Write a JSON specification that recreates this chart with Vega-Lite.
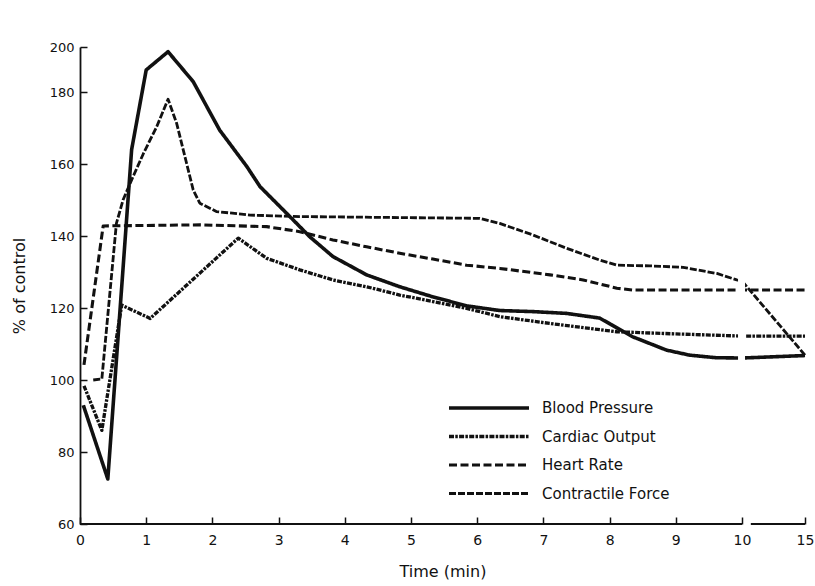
{
  "$schema": "https://vega.github.io/schema/vega-lite/v6.json",
  "width": 725,
  "height": 477,
  "autosize": {"type": "none"},
  "padding": {"left": 80, "top": 47, "right": 10, "bottom": 62},
  "config": {
    "view": {"stroke": null},
    "font": "DejaVu Sans",
    "axis": {"domainColor": "#111", "domainWidth": 1.8, "tickColor": "#111", "tickWidth": 1.5, "labelColor": "#111", "titleColor": "#111", "grid": false, "titleFontWeight": "normal", "labelFont": "DejaVu Sans", "titleFont": "DejaVu Sans"}
  },
  "datasets": {
    "series": [
      {"series": "Blood Pressure", "t": 0.05, "v": 93},
      {"series": "Blood Pressure", "t": 0.42, "v": 72.5},
      {"series": "Blood Pressure", "t": 0.78, "v": 164},
      {"series": "Blood Pressure", "t": 1.0, "v": 189.8},
      {"series": "Blood Pressure", "t": 1.33, "v": 197.9},
      {"series": "Blood Pressure", "t": 1.71, "v": 184.6},
      {"series": "Blood Pressure", "t": 2.11, "v": 169.4},
      {"series": "Blood Pressure", "t": 2.52, "v": 159.3},
      {"series": "Blood Pressure", "t": 2.72, "v": 153.7},
      {"series": "Blood Pressure", "t": 3.17, "v": 145.4},
      {"series": "Blood Pressure", "t": 3.47, "v": 139.8},
      {"series": "Blood Pressure", "t": 3.82, "v": 134.3},
      {"series": "Blood Pressure", "t": 4.33, "v": 129.2},
      {"series": "Blood Pressure", "t": 4.83, "v": 125.9},
      {"series": "Blood Pressure", "t": 5.33, "v": 123.1},
      {"series": "Blood Pressure", "t": 5.84, "v": 120.6},
      {"series": "Blood Pressure", "t": 6.34, "v": 119.3},
      {"series": "Blood Pressure", "t": 6.84, "v": 119.0},
      {"series": "Blood Pressure", "t": 7.35, "v": 118.5},
      {"series": "Blood Pressure", "t": 7.85, "v": 117.2},
      {"series": "Blood Pressure", "t": 8.35, "v": 112.0},
      {"series": "Blood Pressure", "t": 8.86, "v": 108.3},
      {"series": "Blood Pressure", "t": 9.21, "v": 106.9},
      {"series": "Blood Pressure", "t": 9.6, "v": 106.2},
      {"series": "Blood Pressure", "t": 10, "v": 106.1},
      {"series": "Blood Pressure", "t": 15, "v": 106.8},
      {"series": "Cardiac Output", "t": 0.06, "v": 98.4},
      {"series": "Cardiac Output", "t": 0.33, "v": 86},
      {"series": "Cardiac Output", "t": 0.63, "v": 120.8},
      {"series": "Cardiac Output", "t": 1.06, "v": 117.1},
      {"series": "Cardiac Output", "t": 2.39, "v": 139.4},
      {"series": "Cardiac Output", "t": 2.82, "v": 133.8},
      {"series": "Cardiac Output", "t": 3.32, "v": 130.6},
      {"series": "Cardiac Output", "t": 3.82, "v": 127.8},
      {"series": "Cardiac Output", "t": 4.33, "v": 125.9},
      {"series": "Cardiac Output", "t": 4.83, "v": 123.6},
      {"series": "Cardiac Output", "t": 5.33, "v": 121.8},
      {"series": "Cardiac Output", "t": 5.84, "v": 119.9},
      {"series": "Cardiac Output", "t": 6.34, "v": 117.6},
      {"series": "Cardiac Output", "t": 7.1, "v": 115.7},
      {"series": "Cardiac Output", "t": 8.11, "v": 113.4},
      {"series": "Cardiac Output", "t": 9.0, "v": 112.8},
      {"series": "Cardiac Output", "t": 10, "v": 112.2},
      {"series": "Cardiac Output", "t": 15, "v": 112.2},
      {"series": "Heart Rate", "t": 0.06, "v": 104.2},
      {"series": "Heart Rate", "t": 0.35, "v": 142.8},
      {"series": "Heart Rate", "t": 1.81, "v": 143.1},
      {"series": "Heart Rate", "t": 2.82, "v": 142.6},
      {"series": "Heart Rate", "t": 3.32, "v": 141.2},
      {"series": "Heart Rate", "t": 3.82, "v": 138.9},
      {"series": "Heart Rate", "t": 4.33, "v": 137.0},
      {"series": "Heart Rate", "t": 4.83, "v": 135.2},
      {"series": "Heart Rate", "t": 5.33, "v": 133.6},
      {"series": "Heart Rate", "t": 5.84, "v": 131.9},
      {"series": "Heart Rate", "t": 6.34, "v": 131.0},
      {"series": "Heart Rate", "t": 7.1, "v": 129.2},
      {"series": "Heart Rate", "t": 7.6, "v": 127.8},
      {"series": "Heart Rate", "t": 8.11, "v": 125.5},
      {"series": "Heart Rate", "t": 8.35, "v": 125.0},
      {"series": "Heart Rate", "t": 10, "v": 125.0},
      {"series": "Heart Rate", "t": 15, "v": 125.0},
      {"series": "Contractile Force", "t": 0.2, "v": 100},
      {"series": "Contractile Force", "t": 0.33, "v": 100.3},
      {"series": "Contractile Force", "t": 0.55, "v": 143.5},
      {"series": "Contractile Force", "t": 0.65, "v": 150},
      {"series": "Contractile Force", "t": 0.78, "v": 155.6},
      {"series": "Contractile Force", "t": 0.96, "v": 163},
      {"series": "Contractile Force", "t": 1.16, "v": 170.4},
      {"series": "Contractile Force", "t": 1.33, "v": 178},
      {"series": "Contractile Force", "t": 1.46, "v": 171.3},
      {"series": "Contractile Force", "t": 1.61, "v": 160.2},
      {"series": "Contractile Force", "t": 1.71, "v": 152.8},
      {"series": "Contractile Force", "t": 1.81, "v": 149.1},
      {"series": "Contractile Force", "t": 2.06, "v": 146.8},
      {"series": "Contractile Force", "t": 2.57, "v": 145.8},
      {"series": "Contractile Force", "t": 3.32, "v": 145.4},
      {"series": "Contractile Force", "t": 6.04, "v": 144.9},
      {"series": "Contractile Force", "t": 6.34, "v": 143.5},
      {"series": "Contractile Force", "t": 6.84, "v": 140.3},
      {"series": "Contractile Force", "t": 7.35, "v": 136.6},
      {"series": "Contractile Force", "t": 7.85, "v": 133.3},
      {"series": "Contractile Force", "t": 8.11, "v": 131.9},
      {"series": "Contractile Force", "t": 8.61, "v": 131.7},
      {"series": "Contractile Force", "t": 9.11, "v": 131.3},
      {"series": "Contractile Force", "t": 9.62, "v": 129.6},
      {"series": "Contractile Force", "t": 9.92, "v": 127.8},
      {"series": "Contractile Force", "t": 10, "v": 127.5},
      {"series": "Contractile Force", "t": 15, "v": 106.9}
    ],
    "gap": [{"t0": 9.94, "t1": 10.24, "v0": 61, "v1": 200}],
    "baseline": [{"t0": 0, "t1": 10, "v": 60}, {"t0": 10.7, "t1": 15, "v": 60}]
  },
  "layer": [
    {
      "data": {"name": "series"},
      "mark": {"type": "line", "color": "#111", "strokeCap": "butt", "strokeJoin": "round"},
      "encoding": {
        "x": {
          "field": "t", "type": "quantitative",
          "scale": {"domain": [0, 10, 15], "range": [0, 662, 725], "zero": false, "nice": false},
          "axis": {"values": [0, 1, 2, 3, 4, 5, 6, 7, 8, 9, 10, 15], "domain": false, "tickSize": -7, "labelPadding": 16, "labelFontSize": 14, "title": "Time (min)", "titleFontSize": 16, "titlePadding": 16, "labelFlush": false, "zindex": 1}
        },
        "y": {
          "field": "v", "type": "quantitative",
          "scale": {"domain": [60, 180, 200], "range": [477, 45, 0], "zero": false, "nice": false},
          "axis": {"values": [60, 80, 100, 120, 140, 160, 180, 200], "tickSize": -7, "labelPadding": 13, "labelFontSize": 13, "title": "% of control", "titleFontSize": 16, "titlePadding": 22}
        },
        "strokeDash": {
          "field": "series", "type": "nominal",
          "scale": {"domain": ["Blood Pressure", "Cardiac Output", "Heart Rate", "Contractile Force"], "range": [[1, 0], [5, 1.3, 2.5, 1.3], [8, 3.5], [7, 2]]},
          "legend": {"title": null, "orient": "none", "legendX": 367, "legendY": 353, "symbolType": "stroke", "symbolSize": 6400, "labelFontSize": 15, "labelColor": "#111", "labelOffset": 11, "rowPadding": 12.5, "clipHeight": 16, "padding": 0}
        },
        "strokeWidth": {
          "field": "series", "type": "nominal",
          "scale": {"domain": ["Blood Pressure", "Cardiac Output", "Heart Rate", "Contractile Force"], "range": [3.6, 2.8, 4, 3.5]},
          "legend": {"title": null, "orient": "none", "legendX": 367, "legendY": 353, "symbolType": "stroke", "symbolSize": 6400, "labelFontSize": 15, "labelColor": "#111", "labelOffset": 11, "rowPadding": 12.5, "clipHeight": 16, "padding": 0}
        }
      }
    },
    {
      "data": {"name": "gap"},
      "mark": {"type": "rect", "color": "white"},
      "encoding": {
        "x": {"field": "t0", "type": "quantitative"},
        "x2": {"field": "t1"},
        "y": {"field": "v0", "type": "quantitative"},
        "y2": {"field": "v1"}
      }
    },
    {
      "data": {"name": "baseline"},
      "mark": {"type": "rule", "color": "#111", "strokeWidth": 1.8},
      "encoding": {
        "x": {"field": "t0", "type": "quantitative"},
        "x2": {"field": "t1"},
        "y": {"field": "v", "type": "quantitative"}
      }
    }
  ]
}
